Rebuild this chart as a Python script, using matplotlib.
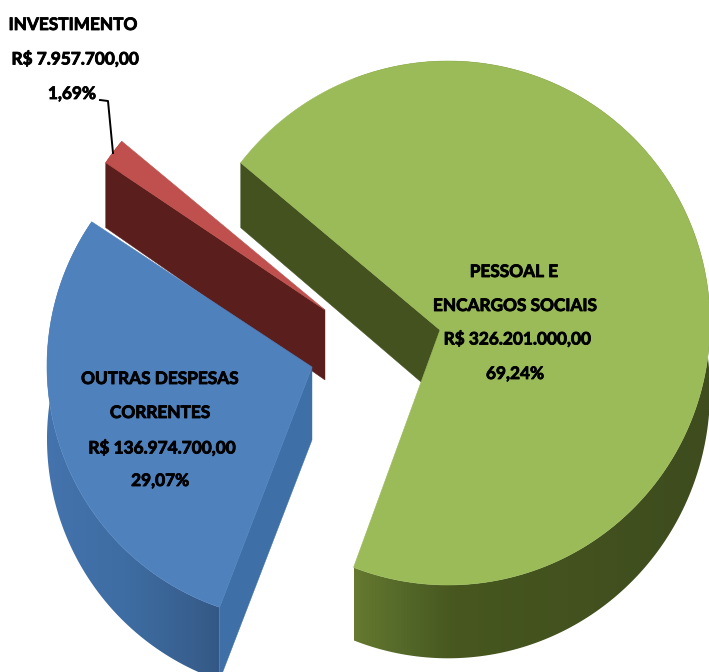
import numpy as np
import matplotlib
matplotlib.use("Agg")
import matplotlib.pyplot as plt
import matplotlib.patheffects as pe
from matplotlib.patches import Polygon
from matplotlib.colors import LinearSegmentedColormap

# ---- data ----
categories = ["PESSOAL E\nENCARGOS SOCIAIS", "INVESTIMENTO", "OUTRAS DESPESAS\nCORRENTES"]
values = [326201000.00, 7957700.00, 136974700.00]
value_labels = ["R$ 326.201.000,00", "R$ 7.957.700,00", "R$ 136.974.700,00"]
percent_labels = ["69,24%", "1,69%", "29,07%"]

# ---- layout / style ----
W, H = 709, 672
styles = {
    "green": dict(vertex=(440, 330), off=(8, 7), R=262, fan=1.003, start=140.0,
                  top="#9BBB59", wall="#44521F", near=(165, 65), far=(570, 73),
                  grad=[(0.0, "#66792F"), (0.13, "#55692A"), (0.28, "#47571F"), (1.0, "#3E4C1E")]),
    "red": dict(vertex=(325, 310), off=(-2, 1), R=262, fan=0.955, start=140.3,
                top="#C0504D", wall="#5A1F1D", near=(163, 65), far=(310, 70),
                grad=[(0.0, "#5A1F1D"), (1.0, "#5A1F1D")]),
    "blue": dict(vertex=(312, 367), off=(-10, 1), R=255, fan=0.978, start=146.6,
                 top="#4F81BD", wall="#3F6FA7", near=(223, 73), far=(605, 73),
                 grad=[(0.0, "#4473AD"), (0.45, "#3E6DA3"), (0.85, "#385F8E"), (1.0, "#345885")]),
}
order = ["green", "red", "blue"]

fig = plt.figure(figsize=(W / 100, H / 100), dpi=100, facecolor="white")
ax = fig.add_axes([0, 0, 1, 1])


def depth(y, s):
    (y0, d0), (y1, d1) = s["near"], s["far"]
    return d0 + (y - y0) * (d1 - d0) / (y1 - y0)


def arc(s, a0, a1, n=240):
    """Points on the rim of a slice, by rays from its vertex."""
    t = np.radians(np.linspace(a0, a1, n))
    ox, oy = s["off"]
    ud = np.cos(t) * ox + np.sin(t) * oy
    r = ud + np.sqrt(s["R"] ** 2 - (ox ** 2 + oy ** 2) + ud ** 2)
    return np.column_stack([s["vertex"][0] + r * np.cos(t), s["vertex"][1] - r * np.sin(t)])


def drop(pts, s):
    out = np.array(pts, dtype=float)
    out[:, 1] += depth(out[:, 1], s)
    return out


fractions = np.array(values) / np.sum(values)
sweeps = dict(zip(["green", "red", "blue"], fractions * 360.0))

for i, key in enumerate(order):
    s = styles[key]
    base = 10 * i
    sweep = sweeps[key] * s["fan"]
    if key == "green":
        a0, a1 = s["start"] - sweep, s["start"]
    else:
        a0, a1 = s["start"], s["start"] + sweep
    rim = arc(s, a0, a1)
    v = np.array([s["vertex"]], dtype=float)

    # outer wall with a horizontal gradient
    wall_pts = np.vstack([rim, drop(rim, s)[::-1]])
    poly = Polygon(wall_pts, closed=True, facecolor="none", edgecolor="none", zorder=base + 2)
    ax.add_patch(poly)
    cmap = LinearSegmentedColormap.from_list(key, s["grad"])
    x0, x1 = wall_pts[:, 0].min(), wall_pts[:, 0].max()
    if key == "green":
        x0 = rim[0, 0]
    im = ax.imshow(np.linspace(0, 1, 256)[None, :], extent=(x0, x1, H, 0), aspect="auto",
                   cmap=cmap, zorder=base + 2)
    im.set_clip_path(poly)

    # flat wall along the visible cut edge
    edge = rim[-1:]
    quad = np.vstack([v, edge, drop(edge, s), drop(v, s)])
    ax.add_patch(Polygon(quad, closed=True, facecolor=s["wall"], edgecolor=s["wall"],
                         lw=0.3, zorder=base + 2.5))

    # top surface
    ax.add_patch(Polygon(np.vstack([v, rim]), closed=True, facecolor=s["top"],
                         edgecolor=s["top"], lw=0.4, zorder=base + 3))

ax.plot([100, 108, 113], [100, 101, 153], color="black", lw=1.4, zorder=50)

txt = dict(family="Lato", fontweight="bold", fontsize=12.4, color="black",
           ha="center", va="center", zorder=60,
           path_effects=[pe.withStroke(linewidth=0.6, foreground="black")])
for (xc, yc), t in [
    ((514, 272), "PESSOAL E"), ((515, 306), "ENCARGOS SOCIAIS"),
    ((517, 339), value_labels[0]), ((515, 374), percent_labels[0]),
    ((160, 379), "OUTRAS DESPESAS"), ((160, 413), "CORRENTES"),
    ((162, 448), value_labels[2]), ((160, 481), percent_labels[2]),
    ((73, 25), "INVESTIMENTO"), ((75, 59), value_labels[1]), ((72, 94), percent_labels[1]),
]:
    ax.text(xc, yc, t, **txt)

ax.set_xlim(0, W)
ax.set_ylim(H, 0)
ax.axis("off")
fig.savefig("out.png", dpi=100, facecolor="white")
